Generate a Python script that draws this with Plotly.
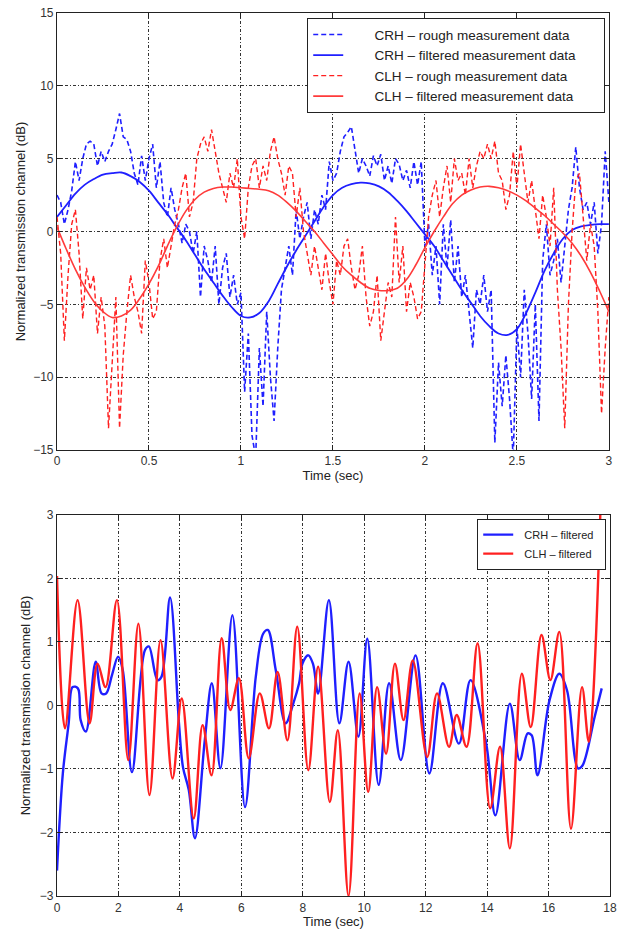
import plotly.graph_objects as go

# ---------------- Top panel data (0-3 s) ----------------
rough_time = [round(i * 0.02, 2) for i in range(151)]

crh_rough = [
    2.5, 2.0, 0.5, 1.5, 2.8, 4.8, 3.5, 5.0, 6.0, 6.2,
    6.0, 4.5, 5.5, 4.8, 5.5, 6.0, 7.0, 8.1, 6.5, 6.3,
    5.5, 4.0, 3.2, 5.2, 3.5, 5.0, 6.0, 3.0, 4.8, 2.0,
    1.0, 3.0, 1.5, 0.5, -0.8, 0.5, 0.0, -1.5, 0.0, -4.5,
    -1.0, -2.0, -3.5, -1.0, -5.0, -2.5, -1.5, -4.5, -3.0, -5.0,
    -4.2, -11.0, -7.0, -14.0, -15.5, -8.0, -12.0, -5.5, -10.0, -13.0,
    -8.0, -4.0, -2.5, -1.0, -3.0, 1.5, -0.5, 1.0, 2.0, -0.5,
    1.5, 0.5, 2.5, 1.5, 4.8, 3.5, 4.0, 5.5, 6.5, 6.8,
    7.2, 5.5, 4.0, 5.0, 4.5, 3.8, 5.2, 4.5, 5.3, 3.5,
    4.5, 3.3, 5.0, 4.6, 3.5, 4.2, 3.0, 4.8, 3.2, 4.8,
    -1.0, 0.5, -3.0, -1.0, -5.0, 0.5, -2.5, 0.8, -3.5, -1.0,
    -4.5, -3.0, -5.5, -8.0, -4.0, -5.0, -3.0, -5.5, -4.0, -14.5,
    -9.0, -12.0, -8.5, -11.5, -15.5, -6.5, -10.0, -4.0, -7.0, -11.5,
    -5.0, -13.0, -2.0, 0.5, -3.0, -2.0, -0.5, -3.5, -1.0, 1.5,
    3.0, 5.8, 3.0, 1.5, 2.0, 0.5, 2.0, -1.5, 0.5, 5.5,
    2.0,
]

clh_rough = [
    1.0, -1.5, -7.5, -3.0, 0.5, 1.5, -1.5, -6.0, -2.5, -4.0,
    -3.0, -7.0, -4.5, -6.5, -13.5, -9.0, -4.5, -13.5, -8.5, -5.5,
    -3.0, -4.5, -5.5, -7.0, -2.0, -3.5, -6.0, -5.5, -2.0, -0.5,
    -2.5, -1.0, 0.5, 1.5, 3.0, 4.0, 1.0, 2.0, 5.0, 6.0,
    6.5, 5.5, 7.0, 5.5, 4.0, 3.0, 2.0, 4.0, 3.0, 5.0,
    1.0, -0.5, 3.0, 4.5, 5.0, 3.0, 4.5, 3.5, 5.5, 6.5,
    5.0, 4.0, 2.5, 4.5, 4.0, 1.0, 3.0, 0.0, -1.5, -3.0,
    -1.0, -2.5, -4.0, -1.5, -3.5, -5.0, -2.0, -3.0, -1.0, -0.5,
    -2.5, -4.0, -3.0, -1.0, -4.5, -6.5, -5.5, -3.0, -7.5, -5.5,
    -3.5, -4.5, 1.0, -3.5, -1.0, -5.5, -3.5, -4.5, -6.0, -5.5,
    -2.0, 1.0, 2.5, 3.5, 1.0, 3.0, 4.5, 2.0, 5.0, 3.5,
    4.0, 2.5, 5.0, 3.0, 4.5, 5.5, 5.0, 6.0, 5.0, 6.2,
    4.0, 3.5, 1.5, 2.5, 5.5, 3.0, 6.0, 4.0, 2.0, 3.5,
    1.5, -0.5, 2.5, 1.0, -1.0, 3.0, -4.0, -8.0, -13.5, -5.0,
    0.0, 3.5, 4.0, 1.0, -2.0, 0.5, -1.0, -5.5, -12.5, -8.0,
    -4.5,
]

filt_time = [round(i * 0.05, 2) for i in range(61)]

crh_filtered = [
    1.0, 1.8, 2.6, 3.2, 3.6, 3.9, 4.0, 4.05, 3.8, 3.4,
    2.8, 2.0, 1.2, 0.3, -0.6, -1.6, -2.6, -3.5, -4.4, -5.2,
    -5.8, -5.9, -5.6, -4.8, -3.6, -2.4, -1.3, -0.3, 0.7, 1.7,
    2.5, 3.0, 3.25, 3.35, 3.3, 3.1, 2.7, 2.1, 1.4, 0.6,
    -0.2, -1.0, -2.0, -3.0, -4.0, -4.9, -5.8, -6.5, -7.0, -7.1,
    -6.7, -5.6, -4.2, -2.7, -1.5, -0.5, 0.1, 0.35, 0.45, 0.5,
    0.5,
]

clh_filtered = [
    0.3, -1.2, -2.6, -3.8, -4.8, -5.5, -5.9, -5.8, -5.4, -4.6,
    -3.6, -2.4, -1.0, 0.3, 1.4, 2.2, 2.7, 2.95, 3.05, 3.05,
    3.0, 2.95, 2.9, 2.8, 2.5, 2.0, 1.4, 0.7, 0.0, -0.8,
    -1.6, -2.4, -3.0, -3.5, -3.9, -4.05, -4.05, -3.9, -3.3, -2.3,
    -1.1, 0.0, 1.0, 1.9, 2.5, 2.85, 3.05, 3.1, 3.0, 2.8,
    2.5, 2.1, 1.6, 1.1, 0.5, -0.1, -0.8, -1.7, -2.8, -4.1,
    -5.5,
]

# ---------------- Bottom panel data (0-18 s) ----------------
crh_time2 = [
    0, 0.19, 0.38, 0.51, 0.68, 0.77, 0.94, 1.26, 1.45, 1.6,
    1.79, 1.99, 2.14, 2.44, 2.86, 2.99, 3.27, 3.4, 3.68, 3.97,
    4.1, 4.29, 4.49, 4.81, 5.04, 5.32, 5.71, 6.12, 6.47, 6.71,
    6.86, 7.12, 7.44, 7.69, 7.88, 7.99, 8.18, 8.33, 8.5, 8.85,
    9.19, 9.49, 9.81, 10.1, 10.47, 10.81, 11.19, 11.67, 12.12, 12.56,
    13.08, 13.46, 13.97, 14.27, 14.74, 15.06, 15.32, 15.45, 15.64, 16.03,
    16.35, 16.6, 16.96, 17.1, 17.5, 17.73,
]
crh_filt2 = [
    -2.6, -1.07, -0.28, 0.29, 0.27, -0.23, -0.41, 0.69, 0.19, 0.19,
    0.48, 0.77, 0.56, -1.05, 0.87, 0.93, 0.4, 0.45, 1.7, -0.28,
    -0.97, -1.33, -2.09, -0.55, 0.35, -0.99, 1.42, -1.6, 0.45, 1.13,
    1.19, 0.56, -0.28, 0.03, 0.35, 0.66, 0.79, 0.66, 0.19, 1.66,
    -0.28, 0.69, -0.49, 1.05, -1.25, 0.35, -0.86, 0.79, -1.07, 0.35,
    -0.6, 0.4, -0.6, -1.73, 0.03, -0.86, -0.44, -0.47, -1.1, 0.08,
    0.5, 0.24, -0.99, -0.95, -0.18, 0.27,
]

clh_time2 = [
    0, 0.26, 0.67, 1.06, 1.32, 1.58, 1.95, 2.32, 2.65, 3.01,
    3.37, 3.76, 4.06, 4.45, 4.74, 5.03, 5.36, 5.64, 5.92, 6.24,
    6.6, 6.9, 7.18, 7.5, 7.82, 8.18, 8.5, 8.88, 9.14, 9.49,
    9.85, 10.13, 10.42, 10.71, 11.0, 11.28, 11.58, 12.05, 12.37, 12.76,
    13.01, 13.33, 13.69, 14.1, 14.42, 14.74, 15.13, 15.42, 15.77, 16.06,
    16.35, 16.73, 17.09, 17.31, 17.69,
]
clh_filt2 = [
    2.04, -0.36, 1.66, -0.28, 0.66, 0.29, 1.66, -0.86, 1.29, -1.41,
    1.03, -1.15, 0.11, -1.78, -0.31, -1.1, 1.06, -0.07, 0.43, -0.83,
    0.19, -0.36, 0.53, -0.55, 1.24, -1.02, 0.61, -1.52, -0.39, -3.0,
    0.19, -1.36, 0.29, -0.76, 0.66, -0.23, 0.71, -0.81, 0.19, -0.65,
    -0.15, -0.65, 0.98, -1.62, -0.65, -2.25, 0.5, -0.34, 1.11, 0.4,
    1.16, -1.94, 0.29, -0.57, 3.1,
]

top_xticks = [0, 0.5, 1, 1.5, 2, 2.5, 3]
top_xlabels = ["0", "0.5", "1", "1.5", "2", "2.5", "3"]
top_yticks = [-15, -10, -5, 0, 5, 10, 15]
bot_xticks = [0, 2, 4, 6, 8, 10, 12, 14, 16, 18]
bot_yticks = [-3, -2, -1, 0, 1, 2, 3]

top_names = ["CRH – rough measurement data", "CRH – filtered measurement data",
             "CLH – rough measurement data", "CLH – filtered measurement data"]
bot_names = ["CRH – filtered", "CLH – filtered"]

BLUE = "#1f1fff"
RED = "#ff2020"
FONT = "Liberation Sans, Arial, Helvetica, sans-serif"
PAD = "\u00a0" * 7
TPAD = "\u00a0" * 6
PAD2 = "\u00a0" * 2


def top_name(i):
    return PAD + top_names[i] + TPAD


def bot_name(i):
    return PAD2 + bot_names[i] + PAD2


fig = go.Figure()

fig.add_trace(go.Scatter(x=rough_time, y=crh_rough, mode="lines",
                         name=top_name(0),
                         line=dict(color=BLUE, width=1.6, dash="5px,3px"),
                         xaxis="x", yaxis="y", legend="legend"))
fig.add_trace(go.Scatter(x=filt_time, y=crh_filtered, mode="lines",
                         name=top_name(1),
                         line=dict(color=BLUE, width=1.8, shape="spline"),
                         xaxis="x", yaxis="y", legend="legend"))
fig.add_trace(go.Scatter(x=rough_time, y=clh_rough, mode="lines",
                         name=top_name(2),
                         line=dict(color=RED, width=1.4, dash="5px,3px"),
                         xaxis="x", yaxis="y", legend="legend"))
fig.add_trace(go.Scatter(x=filt_time, y=clh_filtered, mode="lines",
                         name=top_name(3),
                         line=dict(color="#ff3a3a", width=1.6, shape="spline"),
                         xaxis="x", yaxis="y", legend="legend"))

fig.add_trace(go.Scatter(x=crh_time2, y=crh_filt2, mode="lines",
                         name=bot_name(0),
                         line=dict(color=BLUE, width=2.4, shape="spline"),
                         xaxis="x2", yaxis="y2", legend="legend2"))
fig.add_trace(go.Scatter(x=clh_time2, y=clh_filt2, mode="lines",
                         name=bot_name(1),
                         line=dict(color=RED, width=2.4, shape="spline"),
                         xaxis="x2", yaxis="y2", legend="legend2"))

axis_common = dict(
    showline=True, linecolor="#222", linewidth=1.2, mirror="ticks",
    ticks="inside", ticklen=5, tickcolor="#222",
    showgrid=True, gridcolor="#333", gridwidth=1, griddash="3px,2px,1px,2px",
    zeroline=False,
    tickfont=dict(family=FONT, size=12, color="#333"),
    ticklabeloverflow="allow",
    automargin=False,
)

title_font = dict(family=FONT, size=13, color="#222")

fig.update_layout(
    width=617, height=929,
    margin=dict(l=57, r=7, t=13, b=33),
    paper_bgcolor="white", plot_bgcolor="white",
    font=dict(family=FONT, color="#222"),
    xaxis=dict(domain=[0, 0.998], range=[0, 3], tickvals=top_xticks,
               ticktext=top_xlabels, anchor="y",
               title=dict(text="Time (sec)", font=title_font, standoff=0),
               **axis_common),
    yaxis=dict(domain=[0.5051, 1], range=[-15, 15], tickvals=top_yticks, anchor="x",
               title=dict(text="Normalized transmission channel (dB)",
                          font=title_font, standoff=4),
               **axis_common),
    xaxis2=dict(domain=[0, 1], range=[0, 18], tickvals=bot_xticks, anchor="y2",
                title=dict(text="Time (sec)", font=title_font, standoff=0),
                **axis_common),
    yaxis2=dict(domain=[0, 0.4315], range=[-3, 3], tickvals=bot_yticks, anchor="x2",
                title=dict(text="Normalized transmission channel (dB)",
                           font=title_font, standoff=6),
                **axis_common),
    legend=dict(x=0.991, y=0.9943, xanchor="right", yanchor="top",
                bgcolor="white", bordercolor="#222", borderwidth=1.2,
                font=dict(family=FONT, size=13.5, color="#222"),
                itemwidth=30, tracegroupgap=0),
    legend2=dict(x=0.9928, y=0.4270, xanchor="right", yanchor="top",
                 bgcolor="white", bordercolor="#222", borderwidth=1.2,
                 font=dict(family=FONT, size=11, color="#222"),
                 itemwidth=30, tracegroupgap=0),
)

fig.write_html("out.html", config={"displayModeBar": False},
               post_script="document.body.style.margin='0px';")
